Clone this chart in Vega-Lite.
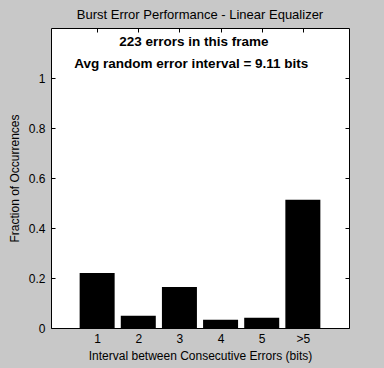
{
  "$schema": "https://vega.github.io/schema/vega-lite/v6.json",
  "width": 298,
  "height": 300,
  "autosize": {"type": "none"},
  "padding": {"left": 51, "top": 28, "right": 35, "bottom": 40},
  "background": "#c8c8c8",
  "title": {
    "text": "Burst Error Performance - Linear Equalizer",
    "font": "Liberation Sans",
    "fontSize": 13,
    "fontWeight": "normal",
    "color": "#000000",
    "anchor": "middle",
    "offset": 6
  },
  "datasets": {
    "bursts": [
      {"interval": 1, "fraction": 0.22},
      {"interval": 2, "fraction": 0.049},
      {"interval": 3, "fraction": 0.164},
      {"interval": 4, "fraction": 0.033},
      {"interval": 5, "fraction": 0.041},
      {"interval": 6, "fraction": 0.513}
    ]
  },
  "config": {
    "view": {"fill": "#ffffff", "stroke": "#000000", "strokeWidth": 1},
    "axis": {
      "grid": false,
      "domain": false,
      "tickColor": "#000000",
      "tickSize": -4,
      "labelFont": "Liberation Sans",
      "labelFontSize": 12,
      "labelColor": "#000000",
      "titleFont": "Liberation Sans",
      "titleFontSize": 12,
      "titleFontWeight": "normal",
      "titleColor": "#000000"
    }
  },
  "resolve": {"axis": {"x": "independent", "y": "independent"}},
  "layer": [
    {
      "data": {"name": "bursts"},
      "mark": {"type": "bar", "color": "#000000", "width": 35},
      "encoding": {
        "x": {
          "field": "interval",
          "type": "quantitative",
          "scale": {"domain": [0, 7], "nice": false, "zero": false},
          "axis": {
            "title": "Interval between Consecutive Errors (bits)",
            "values": [1, 2, 3, 4, 5, 6],
            "labelExpr": "datum.value == 6 ? '>5' : datum.label",
            "labelPadding": 9,
            "titlePadding": 6
          }
        },
        "y": {
          "field": "fraction",
          "type": "quantitative",
          "scale": {"domain": [0, 1.2], "nice": false},
          "axis": {
            "title": "Fraction of Occurrences",
            "values": [0, 0.2, 0.4, 0.6, 0.8, 1],
            "format": "~g",
            "labelPadding": 10,
            "titlePadding": 7
          }
        }
      }
    },
    {
      "data": {"values": [{}]},
      "mark": {"type": "text", "font": "Liberation Sans", "fontSize": 13.5, "fontWeight": "bold", "color": "#000000", "align": "center", "baseline": "middle"},
      "encoding": {
        "x": {"datum": 3.35, "type": "quantitative", "axis": {"orient": "top", "values": [1, 2, 3, 4, 5, 6], "labels": false, "title": null}},
        "y": {"datum": 1.146, "type": "quantitative", "axis": {"orient": "right", "values": [0, 0.2, 0.4, 0.6, 0.8, 1], "labels": false, "title": null}},
        "text": {"value": "223 errors in this frame"}
      }
    },
    {
      "data": {"values": [{}]},
      "mark": {"type": "text", "font": "Liberation Sans", "fontSize": 13.5, "fontWeight": "bold", "color": "#000000", "align": "left", "baseline": "middle"},
      "encoding": {
        "x": {"datum": 0.446, "type": "quantitative", "axis": null},
        "y": {"datum": 1.056, "type": "quantitative", "axis": null},
        "text": {"value": "Avg random error interval = 9.11 bits"}
      }
    }
  ]
}
